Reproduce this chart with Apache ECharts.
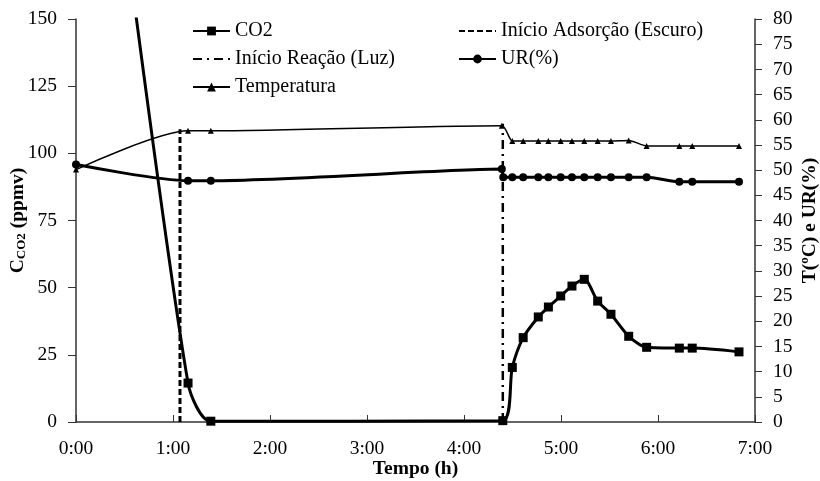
<!DOCTYPE html>
<html lang="pt">
<head>
    <meta charset="UTF-8">
    <title>CO2, T e UR</title>
    <style>
        * { margin: 0; padding: 0; }
        #chart { width: 820px; height: 481px; background: #fff; }
    </style>
</head>
<body>
    <div id="chart"></div>
    <script src="https://cdn.jsdelivr.net/npm/echarts@6/dist/echarts.min.js"></script>
    <script>
        // tempo em horas
        var co2Time = [0.45, 1.155, 1.39, 4.40, 4.498, 4.61, 4.766, 4.87, 4.997, 5.113, 5.24, 5.378, 5.515, 5.698, 5.883, 6.22, 6.353, 6.835];
        var co2Val = [198, 14.5, 0.3, 0.5, 20.3, 31.4, 39.1, 42.8, 46.9, 50.6, 53.1, 45.0, 40.1, 31.9, 27.8, 27.5, 27.5, 26.1];

        var tempTime = [0, 1.155, 1.39, 4.39, 4.498, 4.61, 4.766, 4.87, 4.997, 5.113, 5.24, 5.378, 5.515, 5.698, 5.883, 6.22, 6.353, 6.835];
        var tempVal = [50.1, 57.8, 57.8, 58.8, 55.8, 55.8, 55.8, 55.8, 55.8, 55.8, 55.8, 55.8, 55.8, 55.9, 54.8, 54.8, 54.8, 54.8];

        var urTime = [0, 1.155, 1.39, 4.39, 4.405, 4.498, 4.61, 4.766, 4.87, 4.997, 5.113, 5.24, 5.378, 5.515, 5.698, 5.883, 6.22, 6.353, 6.835];
        var urVal = [51.1, 47.9, 47.9, 50.2, 48.6, 48.6, 48.6, 48.6, 48.6, 48.6, 48.6, 48.6, 48.6, 48.6, 48.6, 48.6, 47.7, 47.7, 47.7];

        // linhas verticais (inicio adsorcao / inicio reacao), eixo da esquerda
        var adsTime = [1.072, 1.072];
        var adsVal = [0, 109];
        var reacTime = [4.40, 4.40];
        var reacVal = [0, 111];

        var leftTicks = { min: 0, max: 150, interval: 25 };
        var rightTicks = { min: 0, max: 80, interval: 5 };
        var timeTicks = { min: 0, max: 7, interval: 1 };

        function pairs(xs, ys) {
            return xs.map(function (x, i) { return [x, ys[i]]; });
        }

        var font = 'Liberation Serif';
        var noMark = { opacity: 0 };   // legenda so com a linha
        var legendText = { fontFamily: font, fontSize: 20, color: '#000' };
        var myChart = echarts.init(document.getElementById('chart'));

        var option = {
            animation: false,
            textStyle: { fontFamily: font, color: '#000' },
            grid: { left: 76, right: 65, top: 19, bottom: 59, containLabel: false, outerBoundsMode: 'none' },
            legend: [{
                left: 192, top: 21, padding: 0, orient: 'vertical',
                itemWidth: 37, itemHeight: 11, itemGap: 8,
                textStyle: legendText,
                data: ['CO2', { name: 'Início Reação (Luz)', itemStyle: noMark }, 'Temperatura']
            }, {
                left: 458, top: 21, padding: 0, orient: 'vertical',
                itemWidth: 37, itemHeight: 11, itemGap: 8,
                textStyle: legendText,
                data: [{ name: 'Início Adsorção (Escuro)', itemStyle: noMark }, 'UR(%)']
            }],
            xAxis: {
                type: 'value',
                min: timeTicks.min, max: timeTicks.max, interval: timeTicks.interval,
                name: 'Tempo (h)', nameLocation: 'middle', nameGap: 37, nameMoveOverlap: false,
                nameTextStyle: { fontFamily: font, fontSize: 19.5, fontWeight: 'bold', color: '#000' },
                axisLine: { lineStyle: { color: '#333', width: 1.5 } },
                axisTick: { inside: true, length: 7, lineStyle: { color: '#333' } },
                axisLabel: {
                    fontFamily: font, fontSize: 19.5, color: '#000', margin: 17,
                    formatter: function (v) { return Math.round(v) + ':00'; }
                },
                splitLine: { show: false }
            },
            yAxis: [{
                type: 'value', position: 'left',
                min: leftTicks.min, max: leftTicks.max, interval: leftTicks.interval,
                name: '{c|C}{s|CO2}{c| (ppmv)}', nameLocation: 'middle', nameGap: 48, nameRotate: 90,
                nameMoveOverlap: false,
                nameTextStyle: {
                    rich: {
                        c: { fontFamily: font, fontSize: 19.5, fontWeight: 'bold', color: '#000' },
                        s: { fontFamily: font, fontSize: 13, fontWeight: 'bold', color: '#000', padding: [8, 0, 0, 0] }
                    }
                },
                axisLine: { show: true, lineStyle: { color: '#333', width: 1.5 } },
                axisTick: { show: true, length: 8, lineStyle: { color: '#333' } },
                axisLabel: { fontFamily: font, fontSize: 19.5, color: '#000', margin: 19 },
                splitLine: { show: false }
            }, {
                type: 'value', position: 'right',
                min: rightTicks.min, max: rightTicks.max, interval: rightTicks.interval,
                name: 'T(ºC) e UR(%)', nameLocation: 'middle', nameGap: 45, nameRotate: 90,
                nameMoveOverlap: false,
                nameTextStyle: { fontFamily: font, fontSize: 19.5, fontWeight: 'bold', color: '#000' },
                axisLine: { show: true, lineStyle: { color: '#333', width: 1.5 } },
                axisTick: { show: true, length: 7, lineStyle: { color: '#333' } },
                axisLabel: { fontFamily: font, fontSize: 19.5, color: '#000', margin: 18 },
                splitLine: { show: false }
            }],
            series: [{
                name: 'CO2', type: 'line', yAxisIndex: 0,
                data: pairs(co2Time, co2Val),
                smooth: 0.25,
                symbol: 'rect', symbolSize: 9,
                lineStyle: { color: '#000', width: 3 },
                itemStyle: { color: '#000' }
            }, {
                name: 'Temperatura', type: 'line', yAxisIndex: 1,
                data: pairs(tempTime, tempVal),
                smooth: 0.25,
                symbol: 'triangle', symbolSize: 6,
                lineStyle: { color: '#000', width: 1.5 },
                itemStyle: { color: '#000' }
            }, {
                name: 'UR(%)', type: 'line', yAxisIndex: 1,
                data: pairs(urTime, urVal),
                smooth: 0.25,
                symbol: 'circle', symbolSize: 8,
                lineStyle: { color: '#000', width: 3 },
                itemStyle: { color: '#000' }
            }, {
                name: 'Início Adsorção (Escuro)', type: 'line', yAxisIndex: 0,
                data: pairs(adsTime, adsVal),
                symbol: 'none',
                lineStyle: { color: '#000', width: 3, type: [6, 3] },
                itemStyle: { color: '#000' }
            }, {
                name: 'Início Reação (Luz)', type: 'line', yAxisIndex: 0,
                data: pairs(reacTime, reacVal),
                symbol: 'none',
                lineStyle: { color: '#000', width: 2.5, type: [9, 5, 2, 5] },
                itemStyle: { color: '#000' }
            }]
        };

        myChart.setOption(option);
    </script>
</body>
</html>
